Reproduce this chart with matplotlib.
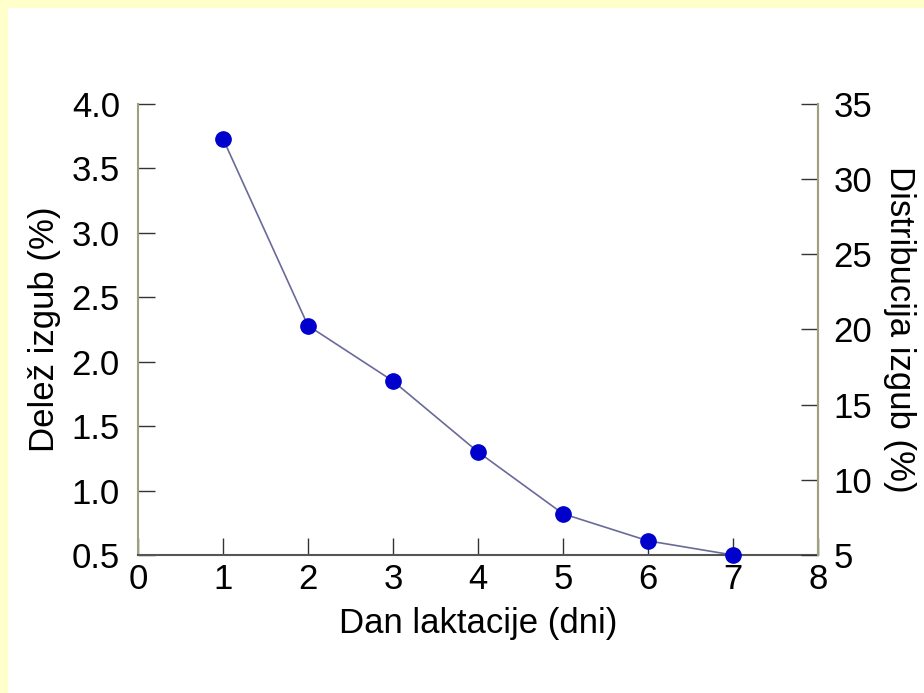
import matplotlib
matplotlib.use("Agg")
import matplotlib.pyplot as plt
from matplotlib.patches import Rectangle

# --------- data ---------
days = [1, 2, 3, 4, 5, 6, 7]
loss_share = [3.73, 2.28, 1.85, 1.30, 0.82, 0.61, 0.50]   # Delež izgub (%)

x_ticks = [0, 1, 2, 3, 4, 5, 6, 7, 8]
left_ticks = [0.5, 1.0, 1.5, 2.0, 2.5, 3.0, 3.5, 4.0]
right_ticks = [5, 10, 15, 20, 25, 30, 35]

plt.rcParams["font.family"] = ["Liberation Sans", "DejaVu Sans"]
fs = 25
spine_col = "#a09f80"
tick_len = 12

fig = plt.figure(figsize=(9.24, 6.93), dpi=100)
fig.patch.set_facecolor("white")

# pale yellow frame on top and left
fig.patches.append(Rectangle((0, 1 - 7 / 693), 1, 7 / 693, transform=fig.transFigure,
                             color="#ffffcc", zorder=0))
fig.patches.append(Rectangle((0, 0), 7 / 924, 1, transform=fig.transFigure,
                             color="#ffffcc", zorder=0))

ax = fig.add_axes([138 / 924, 1 - 555 / 693, (818 - 138) / 924, (555 - 104) / 693])
ax.plot(days, loss_share, color="#6a6a9a", lw=1.2, zorder=2)
ax.plot(days, loss_share, "o", color="#0000cc", ms=11, zorder=3, clip_on=False)

ax.set_xlim(0, 8)
ax.set_ylim(0.5, 4.0)
ax.set_xticks(x_ticks)
ax.set_yticks(left_ticks)
ax.set_yticklabels([f"{v:.1f}" for v in left_ticks])
ax.tick_params(axis="both", direction="in", length=tick_len, width=1, labelsize=fs,
               color="#333333")
ax.tick_params(axis="y", pad=13)
ax.tick_params(axis="x", pad=6)

ax.spines["top"].set_visible(False)
ax.spines["left"].set_color(spine_col)
ax.spines["right"].set_color(spine_col)
ax.spines["bottom"].set_color("#555555")
for s in ax.spines.values():
    s.set_linewidth(1.5)

ax.set_xlabel("Dan laktacije (dni)", fontsize=fs, labelpad=8)
ax.set_ylabel("Delež izgub (%)", fontsize=fs, labelpad=8)

ax2 = ax.twinx()
ax2.set_ylim(5, 35)
ax2.set_yticks(right_ticks)
ax2.tick_params(axis="y", direction="in", length=tick_len, width=1, labelsize=fs,
                color="#333333", pad=11)
ax2.spines["top"].set_visible(False)
ax2.spines["left"].set_visible(False)
ax2.spines["bottom"].set_visible(False)
ax2.spines["right"].set_color(spine_col)
ax2.spines["right"].set_linewidth(1.5)
ax2.set_ylabel("Distribucija izgub (%)", fontsize=fs, rotation=270, labelpad=32)

fig.savefig("out.png", dpi=100)
